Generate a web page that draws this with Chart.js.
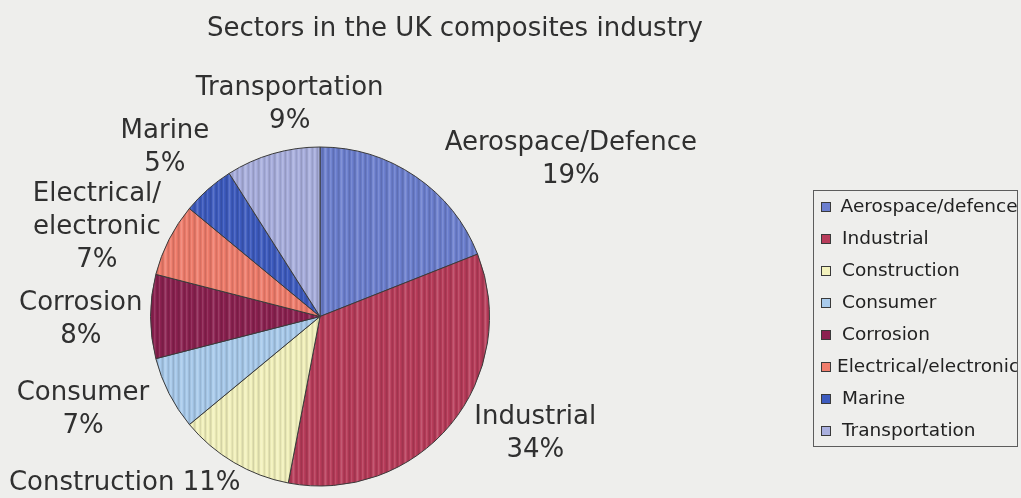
<!DOCTYPE html>
<html>
<head>
<meta charset="utf-8">
<title>Sectors in the UK composites industry</title>
<script src="https://cdn.jsdelivr.net/npm/chart.js@4.4.1/dist/chart.umd.min.js"></script>
<style>
    html, body { margin: 0; padding: 0; background: #eeeeec; }
    #sectorChart { display: block; }
</style>
</head>
<body>
<canvas id="sectorChart" width="1021" height="498"></canvas>
<script>
// Sector shares (%) of the UK composites industry
const sectors = ['Aerospace/defence', 'Industrial', 'Construction', 'Consumer', 'Corrosion', 'Electrical/electronic', 'Marine', 'Transportation'];
const shares = [19, 34, 11, 7, 8, 7, 5, 9];
// Text printed beside each slice (line breaks as printed)
const sliceLabels = [['Aerospace/Defence'], ['Industrial'], ['Construction'], ['Consumer'], ['Corrosion'], ['Electrical/', 'electronic'], ['Marine'], ['Transportation']];
const sliceColors = ['#6c7fcf', '#b83c5a', '#f3f2bd', '#a9cbec', '#8b2150', '#f07d6c', '#3d5bbf', '#aab0df'];

const FONT = '"DejaVu Sans", Verdana, sans-serif';

/**
 * Fill with vertical streaks, like a printed/scanned sheet
 */
function streaked(hex) {
    const shade = [0, 0.06, 0.12, 0.08, -0.05, -0.10, -0.04, 0.05, 0.10, 0.03, -0.07, -0.03, 0.07, 0.13, 0.04, -0.06];
    const c = document.createElement('canvas');
    c.width = shade.length;
    c.height = 1;
    const g = c.getContext('2d');
    g.fillStyle = hex;
    g.fillRect(0, 0, c.width, 1);
    shade.forEach((s, i) => {
        g.fillStyle = s > 0 ? 'rgba(0,0,0,' + s + ')' : 'rgba(255,255,255,' + (-s * 1.6) + ')';
        g.fillRect(i, 0, 1, 1);
    });
    return g.createPattern(c, 'repeat');
}

// Title above the pie
const titlePlugin = {
    id: 'sheetTitle',
    afterDraw(chart, args, opts) {
        const ctx = chart.ctx;
        ctx.save();
        ctx.font = '26px ' + FONT;
        ctx.fillStyle = '#303030';
        ctx.textAlign = 'center';
        ctx.textBaseline = 'middle';
        ctx.fillText(opts.text, opts.x, opts.y);
        ctx.restore();
    }
};

// Name + percentage beside each slice, placed off the slice's mid angle
const sliceLabelPlugin = {
    id: 'sliceLabels',
    afterDatasetsDraw(chart, args, opts) {
        const ctx = chart.ctx;
        const meta = chart.getDatasetMeta(0);
        ctx.save();
        ctx.font = '26px ' + FONT;
        ctx.fillStyle = '#303030';
        ctx.textAlign = 'center';
        ctx.textBaseline = 'middle';
        meta.data.forEach((arc, i) => {
            const p = arc.getProps(['x', 'y', 'startAngle', 'endAngle', 'outerRadius'], true);
            const mid = (p.startAngle + p.endAngle) / 2;
            const cx = Math.cos(mid), cy = Math.sin(mid);
            const pct = shares[i] + '%';
            let lines = sliceLabels[i].slice();
            if (opts.inline.includes(i)) {
                lines[lines.length - 1] += ' ' + pct;
            } else {
                lines.push(pct);
            }
            const w = Math.max(...lines.map(t => ctx.measureText(t).width));
            const h = lines.length * opts.lineHeight;
            const r = p.outerRadius + opts.gap;
            const nudge = opts.nudge[i] || [0, 0];
            const bx = p.x + r * cx + (w / 2) * cx + nudge[0];
            const by = p.y + r * cy + (h / 2) * cy + nudge[1];
            lines.forEach((t, j) => {
                ctx.fillText(t, bx, by + (j - (lines.length - 1) / 2) * opts.lineHeight);
            });
        });
        ctx.restore();
    }
};

// Boxed legend on the right, text clipped by the frame
const boxLegendPlugin = {
    id: 'boxLegend',
    afterDraw(chart, args, opts) {
        const ctx = chart.ctx;
        const ds = chart.data.datasets[0];
        const right = opts.left + opts.width;
        ctx.save();
        ctx.strokeStyle = '#5c5c5c';
        ctx.lineWidth = 1;
        ctx.strokeRect(opts.left + 0.5, opts.top + 0.5, opts.width, opts.height);
        ctx.beginPath();
        ctx.rect(opts.left + 1, opts.top + 1, opts.width - 1, opts.height - 1);
        ctx.clip();
        ctx.font = opts.fontSize + 'px ' + FONT;
        ctx.textBaseline = 'middle';
        chart.data.labels.forEach((label, i) => {
            const y = opts.firstY + i * opts.step;
            ctx.fillStyle = ds.swatch[i];
            ctx.fillRect(opts.left + 8, y - 5, 10, 10);
            ctx.strokeStyle = '#3a3a3a';
            ctx.strokeRect(opts.left + 8.5, y - 4.5, 9, 9);
            const w = ctx.measureText(label).width;
            const room = right - opts.textX;
            const shift = w > room ? Math.min((w - room) * 0.7, 10) : 0;
            ctx.fillStyle = '#222222';
            ctx.fillText(label, opts.textX - shift, y);
        });
        ctx.restore();
    }
};

new Chart(document.getElementById('sectorChart'), {
    type: 'pie',
    data: {
        labels: sectors,
        datasets: [{
            data: shares,
            backgroundColor: sliceColors.map(streaked),
            swatch: sliceColors,
            borderColor: '#3a3a3a',
            borderWidth: 1
        }]
    },
    options: {
        responsive: false,
        animation: false,
        layout: {
            padding: { left: 150, right: 531, top: 146, bottom: 11 }
        },
        plugins: {
            legend: { display: false },
            tooltip: { enabled: false },
            sheetTitle: { text: 'Sectors in the UK composites industry', x: 455, y: 29 },
            sliceLabels: {
                gap: 10,
                lineHeight: 33,
                inline: [2],
                nudge: [[79, 19], [30, -18], [-45, -2], [-18, -3], [2, 3], [-6, 15], [-7, -9], [46, -8]]
            },
            boxLegend: { left: 813, top: 190, width: 204, height: 256, firstY: 207, step: 32, textX: 842, fontSize: 18.5 }
        }
    },
    plugins: [titlePlugin, sliceLabelPlugin, boxLegendPlugin]
});
</script>
</body>
</html>
